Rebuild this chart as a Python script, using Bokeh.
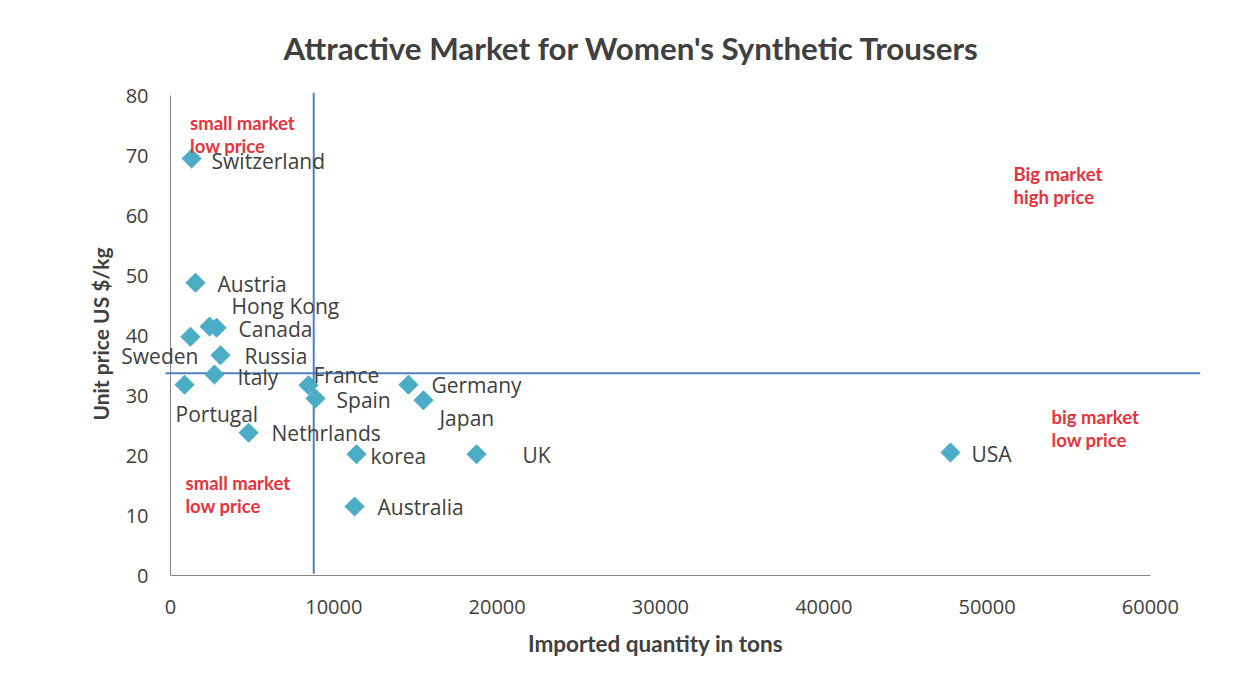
import math
from bokeh.plotting import figure
from bokeh.models import ColumnDataSource, Range1d, Label, Title, FixedTicker
from bokeh.embed import file_html
from bokeh.resources import INLINE

# ---- data ----
countries = ["Switzerland", "Austria", "Hong Kong", "Canada", "Sweden", "Russia", "Italy",
             "Portugal", "France", "Spain", "Germany", "Japan", "Nethrlands", "korea",
             "UK", "USA", "Australia"]
quantity = [1290, 1530, 2390, 2820, 1220, 3060, 2690, 860, 8450, 8880, 14570, 15490,
            4780, 11390, 18740, 47760, 11270]
price = [69.5, 48.8, 41.5, 41.3, 39.8, 36.7, 33.5, 31.8, 31.7, 29.5, 31.8, 29.2,
         23.8, 20.2, 20.2, 20.5, 11.5]
threshold_quantity = 8770
threshold_price = 33.7
x_ticks = [0, 10000, 20000, 30000, 40000, 50000, 60000]
y_ticks = [0, 10, 20, 30, 40, 50, 60, 70, 80]

# label placement (pixels, positive dy = down) -- style only
label_dx = [20, 22, 22, 22, 8, 24, 23, -9, 5, 21, 23, 16, 23, 14, 46, 21, 23]
label_dy = [2, 1, -21, 1, 19, 1, 2, 29, -10, 1, 0, 18, 0, 2, 1, 1, 0]
label_align = ["left", "left", "left", "left", "right", "left", "left", "left", "left",
               "left", "left", "left", "left", "left", "left", "left", "left"]

quadrant_texts = ["small market\nlow price", "small market\nlow price",
                  "Big market\nhigh price", "big market\nlow price"]
quadrant_x = [1200, 920, 51620, 53950]
quadrant_y = [77.2, 17.2, 68.7, 28.3]

x_title = "Imported quantity in tons"
y_title = "Unit price US $/kg"
chart_title = "Attractive Market for Women's Synthetic Trousers"

src = ColumnDataSource(dict(x=quantity, y=price, name=countries))

X_START, X_END = -3674, 63070
p = figure(output_backend="svg", toolbar_location=None,
           x_range=Range1d(X_START, X_END), y_range=Range1d(0, 80.5),
           frame_width=1090, frame_height=483,
           min_border_left=110, min_border_right=38, min_border_top=92, min_border_bottom=100,
           background_fill_color="white", border_fill_color="white")
p.outline_line_color = None
p.grid.visible = False

title = Title(text=chart_title, align="left",
              offset=173, text_font="Lato", text_font_size="31.3px", text_font_style="bold",
              text_color="#404040", standoff=52)
p.add_layout(title, "above")

for ax in (p.xaxis[0], p.yaxis[0]):
    ax.axis_line_color = "#868686"
    ax.axis_line_width = 1
    ax.major_tick_line_color = None
    ax.minor_tick_line_color = None
    ax.major_label_text_font = "Open Sans"
    ax.major_label_text_font_size = "20px"
    ax.major_label_text_color = "#404040"
    ax.axis_label_text_font = "Lato"
    ax.axis_label_text_font_style = "bold"
    ax.axis_label_text_color = "#404040"

p.xaxis.ticker = FixedTicker(ticks=x_ticks)
p.yaxis.ticker = FixedTicker(ticks=y_ticks)
p.xaxis.bounds = (x_ticks[0], x_ticks[-1])
p.yaxis.bounds = (y_ticks[0], y_ticks[-1])
p.xaxis.major_label_standoff = 18
p.xaxis.axis_label = x_title
p.xaxis.axis_label_text_font_size = "22.5px"
p.xaxis.axis_label_standoff = 13

# y axis: labels pulled in next to the value-0 line (frame extends left for the "Sweden" label)
p.yaxis.axis_line_color = None
p.yaxis.major_label_standoff = -44
p.yaxis.axis_label = y_title
p.yaxis.axis_label_text_font_size = "21px"
p.yaxis.axis_label_standoff = 10

# visible y axis line at x = 0
p.segment(x0=[x_ticks[0]], y0=[y_ticks[0]], x1=[x_ticks[0]], y1=[y_ticks[-1]],
          line_color="#868686", line_width=1)

# threshold lines
p.segment(x0=[threshold_quantity], y0=[0.3], x1=[threshold_quantity], y1=[80.5],
          line_color="#4f81bd", line_width=2)
p.segment(x0=[-300], y0=[threshold_price], x1=[X_END], y1=[threshold_price],
          line_color="#4f81bd", line_width=2)

p.scatter("x", "y", source=src, marker="square", size=13.5, angle=math.pi / 4,
          fill_color="#4bacc6", line_color="#4bacc6")

for name, qx, qy, dx, dy, al in zip(countries, quantity, price, label_dx, label_dy, label_align):
    p.add_layout(Label(x=qx, y=qy, text=name, x_offset=dx, y_offset=-dy,
                       text_align=al, text_baseline="middle",
                       text_font="Open Sans", text_font_size="21px", text_color="#404040"))

for t, qx, qy in zip(quadrant_texts, quadrant_x, quadrant_y):
    p.add_layout(Label(x=qx, y=qy, text=t, text_baseline="top",
                       text_font="Lato", text_font_style="bold",
                       text_font_size="18.5px", text_color="#e8323c",
                       text_line_height=1.05))

open("out.html", "w").write(file_html(p, INLINE))
